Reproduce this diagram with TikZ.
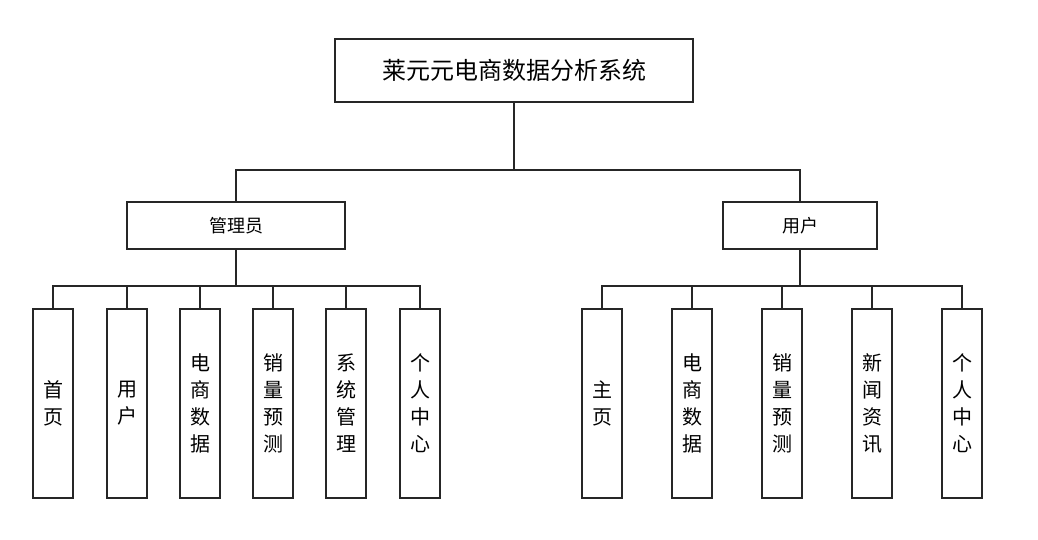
\documentclass[tikz,border=0pt]{standalone}
\usepackage{fontspec}
\newfontfamily\cjk{Noto Sans CJK SC}
\begin{document}
\begin{tikzpicture}[x=1pt,y=-1pt,
  box/.style={draw=black!85,line width=1.4pt,fill=white,inner sep=0pt},
  leaf/.style={box,minimum width=40pt,minimum height=189pt,align=center,font=\cjk\fontsize{20}{27}\selectfont},
  conn/.style={line width=1.4pt,draw=black!85}]
\useasboundingbox (0,0) rectangle (1038,539);
\node[box,minimum width=358pt,minimum height=63pt,font=\cjk\fontsize{24}{28}\selectfont] (root) at (514,70.5) {莱元元电商数据分析系统};
\node[box,minimum width=218pt,minimum height=47pt,font=\cjk\fontsize{18}{22}\selectfont] (adm) at (236,225.5) {管理员};
\node[box,minimum width=154pt,minimum height=47pt,font=\cjk\fontsize{18}{22}\selectfont] (usr) at (800,225.5) {用户};
\node[leaf] (a1) at (53,403.5) {首\\页};
\node[leaf] (a2) at (127,403.5) {用\\户};
\node[leaf] (a3) at (200,403.5) {电\\商\\数\\据};
\node[leaf] (a4) at (273,403.5) {销\\量\\预\\测};
\node[leaf] (a5) at (346,403.5) {系\\统\\管\\理};
\node[leaf] (a6) at (420,403.5) {个\\人\\中\\心};
\node[leaf] (b1) at (602,403.5) {主\\页};
\node[leaf] (b2) at (692,403.5) {电\\商\\数\\据};
\node[leaf] (b3) at (782,403.5) {销\\量\\预\\测};
\node[leaf] (b4) at (872,403.5) {新\\闻\\资\\讯};
\node[leaf] (b5) at (962,403.5) {个\\人\\中\\心};
\coordinate (bus) at (514,170);
\draw[conn] (root.south) -- (bus);
\foreach \n in {adm,usr} \draw[conn] (bus) -| (\n.north);
\coordinate (abus) at (236,286);
\draw[conn] (adm.south) -- (abus);
\foreach \n in {a1,a2,a3,a4,a5,a6} \draw[conn] (abus) -| (\n.north);
\coordinate (bbus) at (800,286);
\draw[conn] (usr.south) -- (bbus);
\foreach \n in {b1,b2,b3,b4,b5} \draw[conn] (bbus) -| (\n.north);
\end{tikzpicture}
\end{document}
